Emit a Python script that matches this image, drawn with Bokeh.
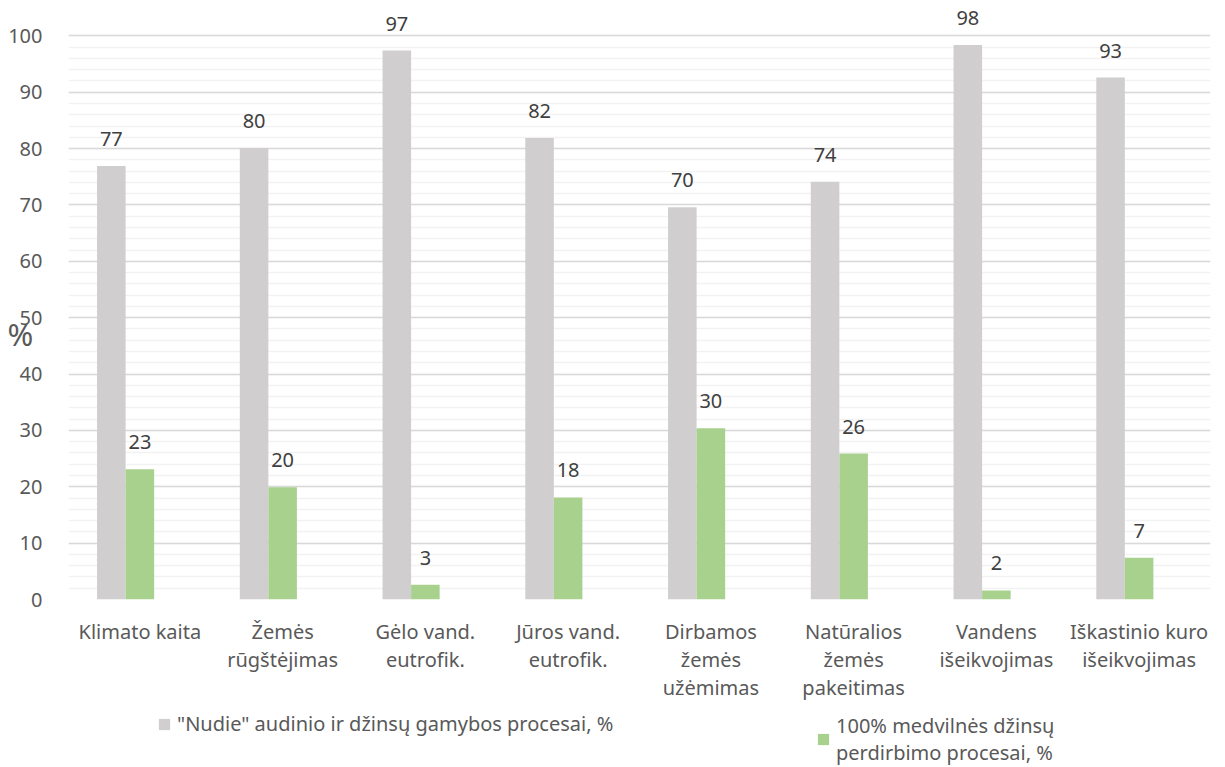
from bokeh.plotting import figure
from bokeh.models import (ColumnDataSource, Range1d, FixedTicker, Legend, LegendItem)
from bokeh.layouts import column
from bokeh.transform import dodge
from bokeh.core.properties import value
from bokeh.embed import file_html
from bokeh.resources import INLINE

categories = ["Klimato kaita", "Žemės\nrūgštėjimas", "Gėlo vand.\neutrofik.", "Jūros vand.\neutrofik.",
              "Dirbamos\nžemės\nužėmimas", "Natūralios\nžemės\npakeitimas", "Vandens\nišeikvojimas",
              "Iškastinio kuro\nišeikvojimas"]
nudie = [76.9, 80.1, 97.4, 81.9, 69.6, 74.1, 98.4, 92.6]
cotton = [23.1, 19.9, 2.6, 18.1, 30.4, 25.9, 1.6, 7.4]
series_names = ['"Nudie" audinio ir džinsų gamybos procesai, %',
                "100% medvilnės džinsų\nperdirbimo procesai, %"]
y_title = "%"
y_ticks = list(range(0, 101, 10))
y_minor = list(range(0, 101, 2))

FONT = "Noto Sans"
GREY = "#D0CECE"
GREEN = "#A9D18E"
FS = "20px"
TXT = "#595959"

idx = list(range(len(categories)))
src = ColumnDataSource(dict(idx=idx, nudie=nudie, cotton=cotton,
                            nl=[f"{v:.0f}" for v in nudie], cl=[f"{v:.0f}" for v in cotton]))

p = figure(width=1225, height=705, output_backend="svg", toolbar_location=None,
           x_range=Range1d(-0.5, len(categories) - 0.5), y_range=Range1d(0, 106.1),
           min_border_left=68, min_border_right=15, min_border_top=1, min_border_bottom=106)
p.outline_line_color = None
p.background_fill_color = "white"
p.border_fill_color = "white"

r1 = p.vbar(x=dodge("idx", -0.2, range=p.x_range), top="nudie", width=0.2, source=src,
            fill_color=GREY, line_color=None)
r2 = p.vbar(x=dodge("idx", 0.0, range=p.x_range), top="cotton", width=0.2, source=src,
            fill_color=GREEN, line_color=None)

p.text(x=dodge("idx", -0.2, range=p.x_range), y="nudie", text="nl", source=src,
       text_align="center", text_baseline="alphabetic", y_offset=-27,
       text_font=value(FONT), text_font_size=FS, text_color="#404040")
p.text(x=dodge("idx", 0.0, range=p.x_range), y="cotton", text="cl", source=src,
       text_align="center", text_baseline="alphabetic", y_offset=-27,
       text_font=value(FONT), text_font_size=FS, text_color="#404040")

# axes
p.yaxis.ticker = FixedTicker(ticks=y_ticks, minor_ticks=y_minor)
p.xaxis.ticker = FixedTicker(ticks=idx)
p.xaxis.major_label_overrides = {i: c for i, c in zip(idx, categories)}
for ax in (p.xaxis[0], p.yaxis[0]):
    ax.axis_line_color = None
    ax.major_tick_line_color = None
    ax.minor_tick_line_color = None
    ax.major_label_text_font = FONT
    ax.major_label_text_font_size = FS
    ax.major_label_text_color = TXT
p.yaxis.major_label_standoff = 20
p.xaxis.major_label_standoff = 12
p.xaxis.major_label_text_line_height = 1.05

p.yaxis.axis_label = "\n\n" + y_title
p.yaxis.axis_label_orientation = "horizontal"
p.yaxis.axis_label_standoff = -28
p.yaxis.axis_label_text_font = FONT
p.yaxis.axis_label_text_font_size = "31px"
p.yaxis.axis_label_text_font_style = "normal"
p.yaxis.axis_label_text_color = TXT
p.yaxis.axis_label_text_line_height = 0.8

p.xgrid.grid_line_color = None
p.ygrid.grid_line_color = "#D9D9D9"
p.ygrid.grid_line_width = 1.5
p.ygrid.minor_grid_line_color = "#F2F2F2"
p.ygrid.minor_grid_line_width = 1.5

# legend strip
p2 = figure(width=1225, height=62, output_backend="svg", toolbar_location=None,
            x_range=Range1d(0, 1), y_range=Range1d(0, 1), min_border=0)
p2.outline_line_color = None
p2.axis.visible = False
p2.grid.visible = False
keys = ColumnDataSource(dict(x=[0.0], top=[0.0]))
d1 = p2.vbar(x="x", top="top", width=0.0, source=keys, fill_color=GREY, line_color=None)
d2 = p2.vbar(x="x", top="top", width=0.0, source=keys, fill_color=GREEN, line_color=None)

leg1 = Legend(items=[LegendItem(label=series_names[0], renderers=[d1])], location=(89, 30))
leg2 = Legend(items=[LegendItem(label=series_names[1], renderers=[d2])], location=(748, 1))
for lg in (leg1, leg2):
    lg.border_line_color = None
    lg.background_fill_alpha = 0
    lg.label_text_font = FONT
    lg.label_text_font_size = FS
    lg.label_text_color = TXT
    lg.glyph_width = 14
    lg.glyph_height = 14
    lg.label_standoff = 6
    lg.padding = 0
    lg.margin = 0
    p2.add_layout(lg)

open("out.html", "w").write(file_html(column(p, p2, spacing=0), INLINE))
